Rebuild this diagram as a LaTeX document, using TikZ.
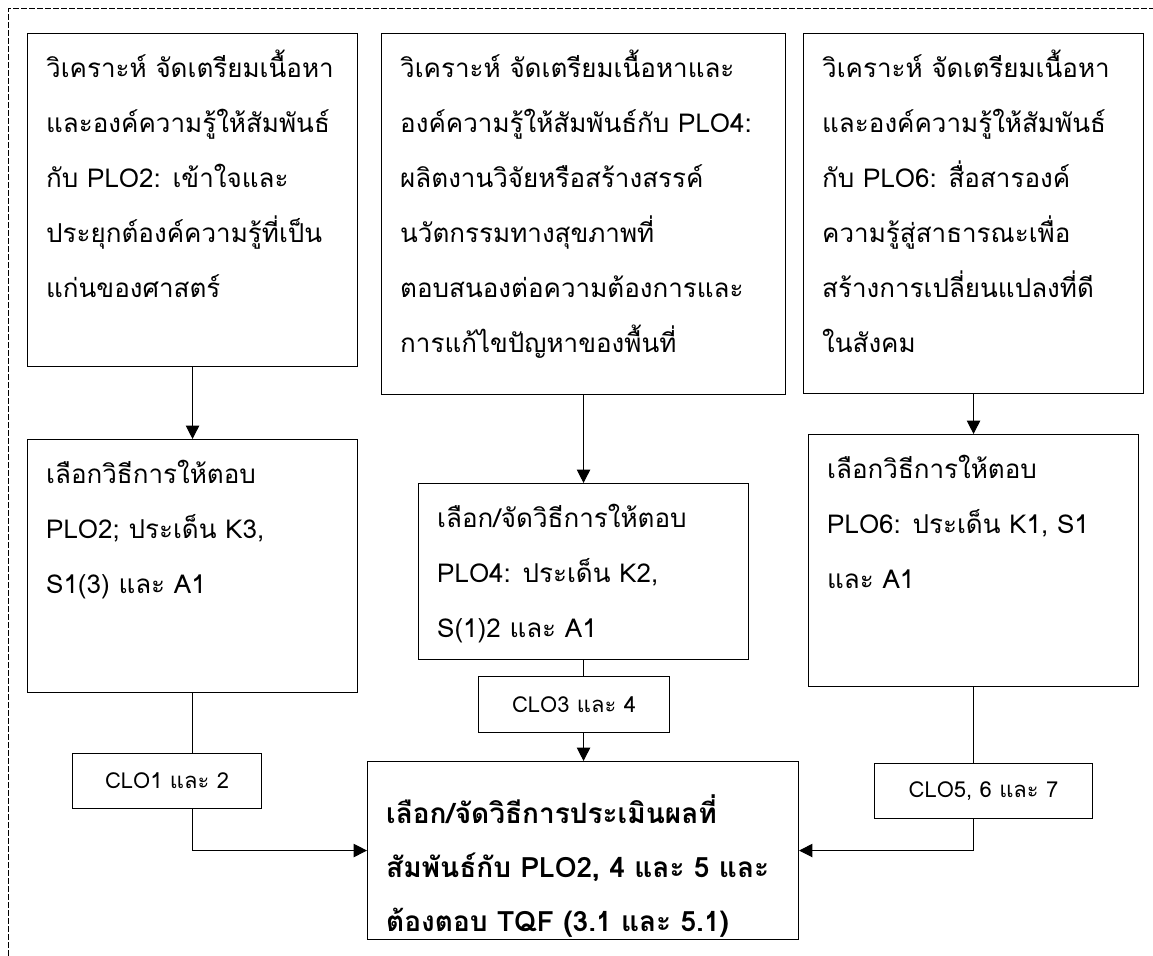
\documentclass[tikz,border=0pt]{standalone}
\usepackage{fontspec}
\newfontfamily\thaifont[Script=Thai]{Loma}
\usetikzlibrary{arrows.meta}
\tikzset{
	taskbox/.style n args={3}{draw, line width=0.8pt, anchor=north west, inner xsep=14pt, inner ysep=8pt,
		font=\thaifont\fontsize{19.5}{41.25}\selectfont,
		execute at begin node={\begin{minipage}[b][\dimexpr #2pt*3/4-16pt\relax][t]{\dimexpr #1pt*3/4-28pt\relax}\rightskip=-30pt plus 1fil\vspace*{#3}\strut},
		execute at end node={\end{minipage}}},
	clobox/.style 2 args={draw, line width=0.8pt, anchor=north west, inner sep=0pt,
		minimum width=#1*0.75pt, minimum height=#2*0.75pt, font=\thaifont\fontsize{16.5}{24}\selectfont},
	flow/.style={line width=0.8pt, -{Triangle[length=10pt,width=10pt]}},
	link/.style={line width=0.8pt},
}

\begin{document}
\begin{tikzpicture}[x=0.75pt, y=-0.75pt]
		%%%%% START %%%%%
		\useasboundingbox (0, 0) rectangle (1153, 956);
		
		\draw[line width=0.75pt, dash pattern=on 4.5pt off 1.5pt] (8, 956) -- (8, 9) -- (1153, 9);
		
		\node[taskbox={330}{333}{-4pt}] (anal1) at (27, 33) {วิเคราะห์ จัดเตรียมเนื้อหา\\และองค์ความรู้ให้สัมพันธ์\\กับ PLO2: เข้าใจและ\\ประยุกต์องค์ความรู้ที่เป็น\\แก่นของศาสตร์};
		\node[taskbox={404}{361}{-4pt}] (anal2) at (381, 33) {วิเคราะห์ จัดเตรียมเนื้อหาและ\\องค์ความรู้ให้สัมพันธ์กับ PLO4:\\ผลิตงานวิจัยหรือสร้างสรรค์\\นวัตกรรมทางสุขภาพที่\\ตอบสนองต่อความต้องการและ\\การแก้ไขปัญหาของพื้นที่};
		\node[taskbox={340}{360}{-4pt}] (anal3) at (803, 33) {วิเคราะห์ จัดเตรียมเนื้อหา\\และองค์ความรู้ให้สัมพันธ์\\กับ PLO6: สื่อสารองค์\\ความรู้สู่สาธารณะเพื่อ\\สร้างการเปลี่ยนแปลงที่ดี\\ในสังคม};
		
		\node[taskbox={330}{253}{-4pt}] (pick1) at (27, 439) {เลือกวิธีการให้ตอบ\\PLO2; ประเด็น K3,\\S1(3) และ A1};
		\node[taskbox={330}{176}{-4pt}] (pick2) at (418, 483) {เลือก/จัดวิธีการให้ตอบ\\PLO4: ประเด็น K2,\\S(1)2 และ A1};
		\node[taskbox={330}{252}{-4pt}] (pick3) at (808, 434) {เลือกวิธีการให้ตอบ\\PLO6: ประเด็น K1, S1\\และ A1};
		
		\node[clobox={189}{55}] (clo12) at (72, 753) {CLO1 และ 2};
		\node[clobox={191}{56}] (clo34) at (478, 676) {CLO3 และ 4};
		\node[clobox={218}{55}] (clo567) at (874, 763) {CLO5, 6 และ 7};
		
		\node[taskbox={431}{178}{10pt}, font=\thaifont\bfseries\fontsize{21}{40.5}\selectfont] (judge) at (367, 761) {เลือก/จัดวิธีการประเมินผลที่\\สัมพันธ์กับ PLO2, 4 และ 5 และ\\ต้องตอบ TQF (3.1 และ 5.1)};
		
		\draw[flow] (anal1) -- (pick1);
		\draw[flow] (anal2) -- (pick2);
		\draw[flow] (anal3) -- (pick3);
		
		\draw[link] (pick1.south) -- (pick1.south |- clo12.north);
		\draw[flow] (pick1.south |- clo12.south) |- (judge.west);
		\draw[link] (pick2.south) -- (pick2.south |- clo34.north);
		\draw[flow] (pick2.south |- clo34.south) -- (pick2.south |- judge.north);
		\draw[link] (pick3.south) -- (pick3.south |- clo567.north);
		\draw[flow] (pick3.south |- clo567.south) |- (judge.east);
		
		%%%%% END %%%%%
\end{tikzpicture}
\end{document}
